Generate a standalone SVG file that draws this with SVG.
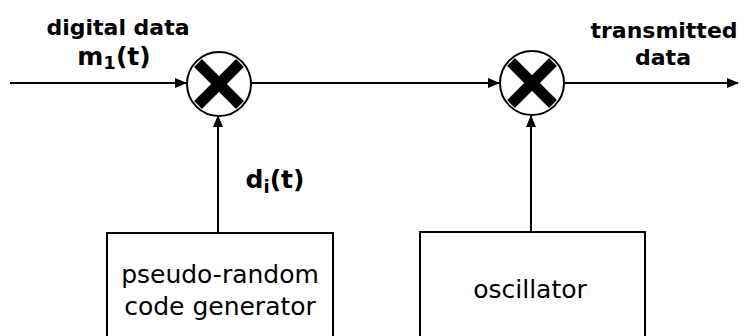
<svg xmlns="http://www.w3.org/2000/svg" width="746" height="336" viewBox="0 0 746 336">
<defs>
<style>
.ln{stroke:#000;stroke-width:2;fill:none}
.box{stroke:#000;stroke-width:2;fill:#fff}
.mix{stroke:#000;stroke-width:2;fill:#fff}
.x{stroke:#000;stroke-width:11;stroke-linecap:butt}
.b{font-family:"DejaVu Sans",Verdana,sans-serif;font-weight:bold;font-size:22px;fill:#000}
.big{font-size:25px}
.sub{font-size:18px}
.r{font-family:"DejaVu Sans",Verdana,sans-serif;font-size:25px;fill:#000}
</style>
<marker id="ah" markerWidth="12" markerHeight="10" refX="11" refY="5" orient="auto" markerUnits="userSpaceOnUse">
<path d="M0,0 L12,5 L0,10 Z" fill="#000"/>
</marker>
</defs>
<g id="connectors">
<line class="ln" x1="10" y1="83" x2="186" y2="83" marker-end="url(#ah)"/>
<line class="ln" x1="251" y1="83" x2="499" y2="83" marker-end="url(#ah)"/>
<line class="ln" x1="565" y1="83" x2="738" y2="83" marker-end="url(#ah)"/>
<line class="ln" x1="218" y1="233" x2="218" y2="116" marker-end="url(#ah)"/>
<line class="ln" x1="531" y1="232" x2="531" y2="116" marker-end="url(#ah)"/>
</g>
<g id="mixer1">
<circle class="mix" cx="219" cy="84" r="32"/>
<line class="x" x1="198" y1="63" x2="240" y2="105"/>
<line class="x" x1="240" y1="63" x2="198" y2="105"/>
</g>
<g id="mixer2">
<circle class="mix" cx="532" cy="83" r="32"/>
<line class="x" x1="511" y1="62" x2="553" y2="104"/>
<line class="x" x1="553" y1="62" x2="511" y2="104"/>
</g>
<g id="pn-gen">
<rect class="box" x="107" y="233" width="226" height="110"/>
<text class="r" x="220" y="283" text-anchor="middle">pseudo-random</text>
<text class="r" x="220" y="315" text-anchor="middle">code generator</text>
</g>
<g id="oscillator">
<rect class="box" x="420" y="232" width="225" height="110"/>
<text class="r" x="530" y="298" text-anchor="middle">oscillator</text>
</g>
<g id="labels">
<text class="b" x="118" y="35" text-anchor="middle">digital data</text>
<text class="b big" x="114" y="65" text-anchor="middle">m<tspan class="sub" dy="4">1</tspan><tspan dy="-4">(t)</tspan></text>
<text class="b" x="664" y="38" text-anchor="middle">transmitted</text>
<text class="b" x="663" y="65" text-anchor="middle">data</text>
<text class="b big" x="275" y="188" text-anchor="middle">d<tspan class="sub" dy="5">i</tspan><tspan dy="-5">(t)</tspan></text>
</g>
</svg>
